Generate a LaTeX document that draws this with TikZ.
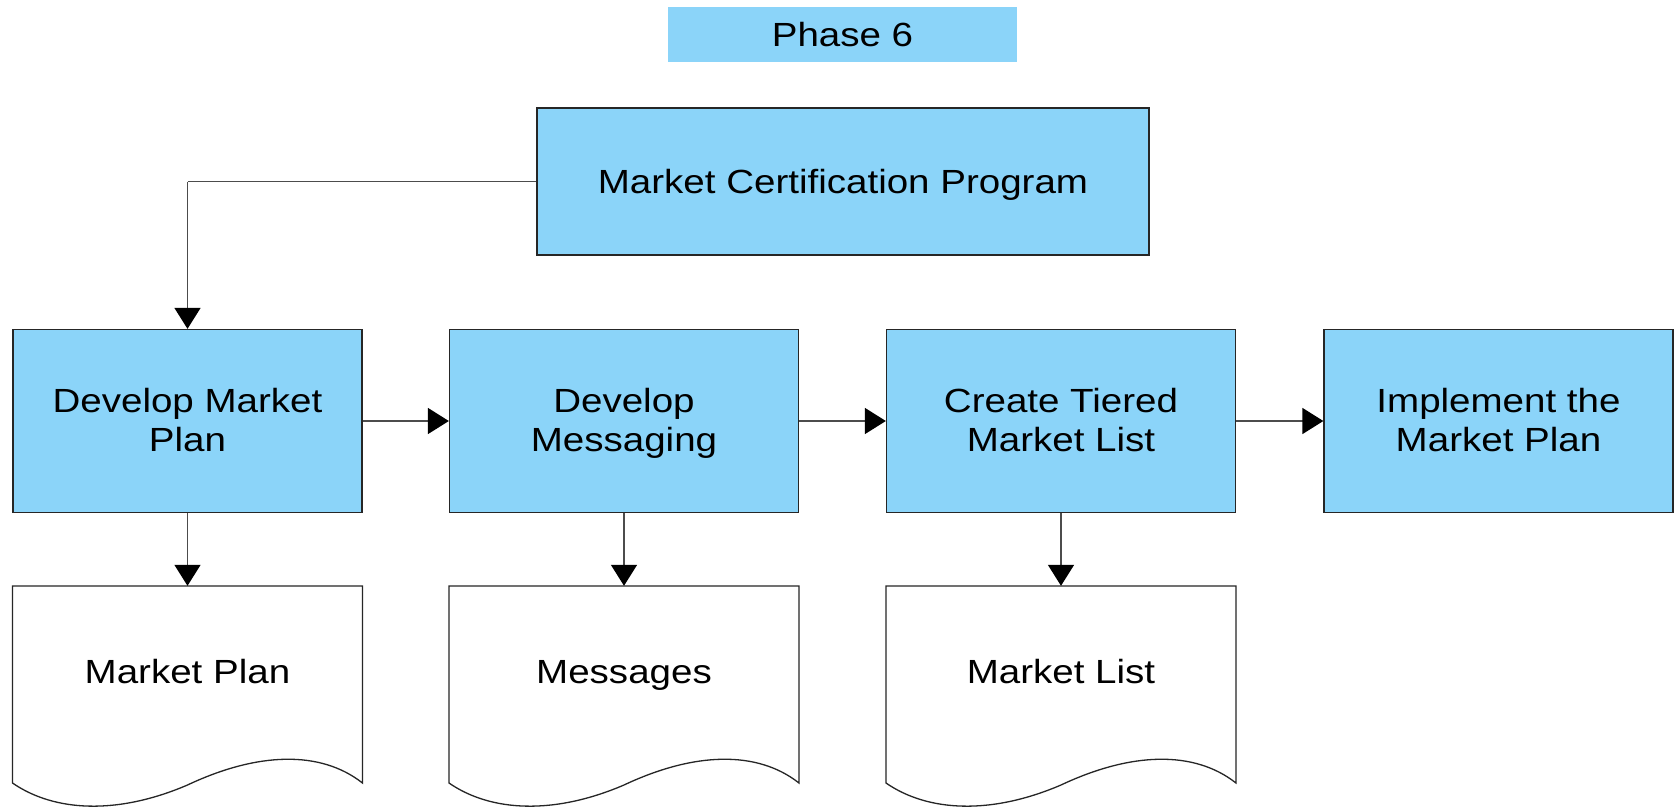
\documentclass[tikz,border=0pt]{standalone}
\usepackage{fontspec}
\setmainfont{Liberation Sans}[FakeStretch=1.15]
\usetikzlibrary{arrows.meta}
\definecolor{boxblue}{RGB}{139,212,249}
\newcommand\drawdoc[1]{\draw[docline] (#1,586) -- ({#1+350},586) -- ({#1+350},783) .. controls ({#1+308},750) and ({#1+245},752) .. ({#1+175},785) .. controls ({#1+105},815) and ({#1+42},812) .. (#1,783) -- cycle;}
\newcommand\lnstrut{\rule[-8pt]{0pt}{37pt}}
\begin{document}
\begin{tikzpicture}[x=1pt,y=-1pt,
  font=\fontsize{33.5}{39}\selectfont,
  proc/.style={draw=black!85, line width=1.3pt, fill=boxblue, minimum width=349pt, minimum height=183pt, inner sep=0pt, align=center},
  oneline/.style={text height=24pt, text depth=0pt},
  docarea/.style={draw=none, minimum width=349pt, minimum height=197pt, inner sep=0pt},
  doctext/.style={oneline, inner sep=0pt},
  docline/.style={draw=black!85, line width=1.3pt, fill=white},
  conn/.style={draw=black!70, line width=1.5pt, -{Triangle[length=21pt,width=26pt,color=black]}},
  plain/.style={draw=black!70, line width=1.5pt},
]
\useasboundingbox (0,0) rectangle (1674,809);
\fill[white] (0,0) rectangle (1674,809);

\node[oneline, fill=boxblue, minimum width=349pt, minimum height=55pt, inner sep=0pt] (phase) at (842.5,34.5) {Phase 6};
\node[proc, oneline, minimum width=612pt, minimum height=147pt] (mcp) at (843,181.5) {Market Certification Program};

\node[proc] (p1) at (187.5,421) {\lnstrut Develop Market\\\lnstrut Plan};
\node[proc] (p2) at (624,421) {\lnstrut Develop\\\lnstrut Messaging};
\node[proc] (p3) at (1061,421) {\lnstrut Create Tiered\\\lnstrut Market List};
\node[proc] (p4) at (1498.5,421) {\lnstrut Implement the\\\lnstrut Market Plan};

\drawdoc{12.5}
\drawdoc{449}
\drawdoc{886}
\node[docarea] (d1) at (187.5,684.5) {};
\node[docarea] (d2) at (624,684.5) {};
\node[docarea] (d3) at (1061,684.5) {};
\node[doctext] (d1t) at (187.5,671) {Market Plan};
\node[doctext] (d2t) at (624,671) {Messages};
\node[doctext] (d3t) at (1061,671) {Market List};

\coordinate (bend) at (p1.north |- mcp.west);
\draw[plain] (mcp.west) -- (bend);
\draw[conn] (bend) -- (p1.north);
\draw[conn] (p1.east) -- (p2.west);
\draw[conn] (p2.east) -- (p3.west);
\draw[conn] (p3.east) -- (p4.west);
\draw[conn] (p1.south) -- (d1.north);
\draw[conn] (p2.south) -- (d2.north);
\draw[conn] (p3.south) -- (d3.north);
\end{tikzpicture}
\end{document}
